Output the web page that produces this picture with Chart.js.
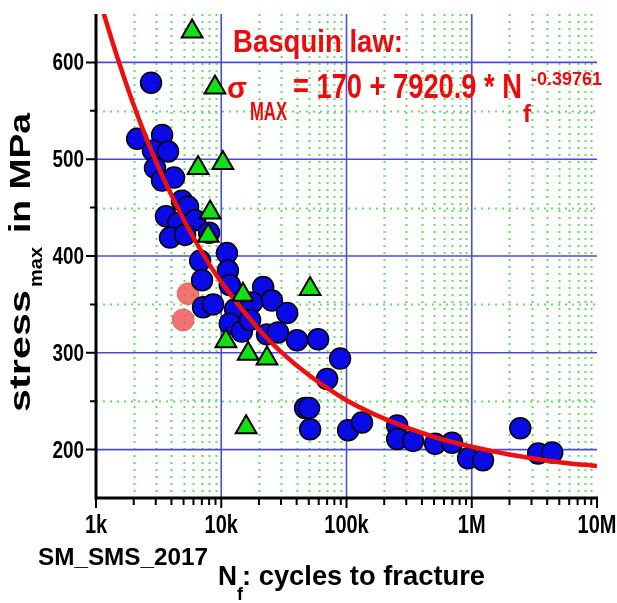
<!DOCTYPE html>
<html>
<head>
<meta charset="utf-8">
<script src="https://cdn.jsdelivr.net/npm/chart.js@4.4.1/dist/chart.umd.min.js"></script>
<style>
  html, body { margin: 0; padding: 0; background: #fff; }
</style>
</head>
<body>
<canvas id="wohler" width="617" height="603"></canvas>
<script>
// cycles to fracture (N_f) and max stress (MPa)
const blueN = [2750, 2130, 3370, 2850, 3760, 2960, 3370, 4200, 4860, 5430,
               3620, 4520, 6180, 3900, 5140, 8000, 6780, 11100, 11300, 7030,
               11700, 21600, 7160, 8610, 12900, 17600, 25400, 33600, 11700, 14600,
               17000, 23200, 28400, 40300, 59300, 88900, 70000, 46700, 50200, 51200,
               103000, 133000, 254000, 254000, 340000, 510000, 697000, 935000, 1230000, 2440000,
               3390000, 4390000];
const blueS = [579, 521, 525, 509, 508, 491, 478, 481, 457, 451,
               441, 434, 437, 419, 422, 424, 395, 403, 385, 375,
               370, 368, 347, 350, 345, 352, 354, 341, 330, 322,
               334, 319, 321, 313, 314, 294, 273, 243, 243, 221,
               220, 228, 225, 211, 209, 206, 207, 191, 189, 222,
               196, 197];

const greenN = [5850, 8910, 6530, 10300, 8150, 7860, 14900, 51200, 10900, 16400, 23200, 15800];
const greenS = [632, 574, 491, 496, 445, 421, 360, 366, 312, 299, 294, 223];

const redN = [5430, 4960];
const redS = [361, 334];

// Basquin fit curve
const fitN = [1100, 1200, 1500, 2000, 3000, 5000, 7000, 10000, 20000, 30000,
              50000, 100000, 200000, 500000, 1000000, 2000000, 5000000, 10000000];
const fitS = [659, 643, 603, 556, 498, 438, 404, 373, 324, 301,
              277, 251, 232, 213, 203, 195, 187, 183];

// axis ticks
const xDecades = [1000, 10000, 100000, 1000000, 10000000];
const xLabels = ['1k', '10k', '100k', '1M', '10M'];
const xSteps = [2, 3, 4, 5, 6, 7, 8, 9];
const yMajor = [200, 300, 400, 500, 600];
const yMinor = [250, 350, 450, 550];

const toPoints = (xs, ys) => xs.map((x, i) => ({ x: x, y: ys[i] }));

const FONT = '"Liberation Sans", Arial, sans-serif';

// bold text, squeezed horizontally: o.w = target width or o.sx = scale
function drawText(ctx, txt, x, y, size, o) {
    ctx.save();
    ctx.font = 'bold ' + size + 'px ' + FONT;
    ctx.fillStyle = o.color || '#000';
    ctx.textBaseline = 'alphabetic';
    ctx.textAlign = 'left';
    const w = ctx.measureText(txt).width;
    const sx = o.w ? o.w / w : (o.sx || 1);
    let dx = 0;
    if (o.align === 'center') dx = -w / 2;
    if (o.align === 'right') dx = -w;
    ctx.translate(x, y);
    if (o.vertical) ctx.rotate(-Math.PI / 2);
    ctx.scale(sx, 1);
    ctx.fillText(txt, dx, 0);
    ctx.restore();
}

const paperGrid = {
    id: 'paperGrid',
    beforeDatasetsDraw(chart) {
        const { ctx, chartArea: a, scales: { x, y } } = chart;
        ctx.save();
        // green dotted minor grid
        ctx.strokeStyle = '#66dd66';
        ctx.lineWidth = 2;
        ctx.setLineDash([2, 5]);
        ctx.beginPath();
        xDecades.slice(0, -1).forEach(d => {
            xSteps.forEach(m => {
                const px = Math.round(x.getPixelForValue(d * m)) + 0.5;
                ctx.moveTo(px, a.top);
                ctx.lineTo(px, a.bottom);
            });
        });
        yMinor.forEach(v => {
            const py = Math.round(y.getPixelForValue(v)) + 0.5;
            ctx.moveTo(a.left, py);
            ctx.lineTo(a.right, py);
        });
        ctx.stroke();
        // blue major grid
        ctx.setLineDash([]);
        ctx.strokeStyle = '#4a4ae0';
        ctx.lineWidth = 1.6;
        ctx.beginPath();
        xDecades.slice(1, -1).forEach(d => {
            const px = x.getPixelForValue(d);
            ctx.moveTo(px, a.top);
            ctx.lineTo(px, a.bottom);
        });
        yMajor.forEach(v => {
            const py = y.getPixelForValue(v);
            ctx.moveTo(a.left, py);
            ctx.lineTo(a.right, py);
        });
        ctx.stroke();
        ctx.restore();
    },
    afterDraw(chart) {
        const { ctx, chartArea: a, scales: { x, y } } = chart;
        ctx.save();
        // black axes and tick marks
        ctx.strokeStyle = '#000';
        ctx.lineWidth = 3;
        ctx.beginPath();
        ctx.moveTo(a.left, a.top);
        ctx.lineTo(a.left, a.bottom);
        ctx.lineTo(a.right + 1, a.bottom);
        ctx.stroke();
        ctx.lineWidth = 2;
        ctx.beginPath();
        xDecades.forEach((d, i) => {
            const px = x.getPixelForValue(d);
            ctx.moveTo(px, a.bottom);
            ctx.lineTo(px, a.bottom + 10);
            if (i < xDecades.length - 1) {
                xSteps.forEach(m => {
                    const pm = x.getPixelForValue(d * m);
                    ctx.moveTo(pm, a.bottom);
                    ctx.lineTo(pm, a.bottom + 7);
                });
            }
        });
        yMajor.forEach(v => {
            const py = y.getPixelForValue(v);
            ctx.moveTo(a.left, py);
            ctx.lineTo(a.left - 10, py);
        });
        yMinor.forEach(v => {
            const py = y.getPixelForValue(v);
            ctx.moveTo(a.left, py);
            ctx.lineTo(a.left - 6, py);
        });
        ctx.stroke();
        ctx.restore();

        // tick labels (condensed, like the scanned figure)
        x.ticks.forEach(t => {
            const i = xDecades.indexOf(t.value);
            drawText(ctx, xLabels[i], x.getPixelForValue(t.value), a.bottom + 35, 25, { sx: 0.8, align: 'center' });
        });
        y.ticks.forEach(t => {
            drawText(ctx, String(t.value), a.left - 12, y.getPixelForValue(t.value) + 8, 23, { sx: 0.82, align: 'right' });
        });

        // annotation
        const red = '#ee0a0a';
        drawText(ctx, 'Basquin law:', 233, 52, 32, { w: 170, color: red });
        drawText(ctx, 'σ', 227, 98, 30, { w: 20, color: red });
        drawText(ctx, 'MAX', 250, 120, 26, { w: 37, color: red });
        drawText(ctx, '= 170 + 7920.9 * N', 293, 98, 35, { w: 229, color: red });
        drawText(ctx, 'f', 523, 122, 24, { w: 8, color: red });
        drawText(ctx, '-0.39761', 531, 85, 18, { w: 71, color: red });

        // axis titles
        drawText(ctx, 'stress', 30, 412, 30, { w: 122, vertical: true });
        drawText(ctx, 'max', 42, 287, 19, { w: 40, vertical: true });
        drawText(ctx, 'in MPa', 30, 233, 30, { w: 120, vertical: true });
        drawText(ctx, 'N', 218, 585, 28, { w: 19 });
        drawText(ctx, 'f', 237, 600, 18, { w: 6 });
        drawText(ctx, ': cycles to fracture', 242, 585, 28, { w: 243 });
        drawText(ctx, 'SM_SMS_2017', 38, 565, 24, { w: 170 });
    }
};

const ctx = document.getElementById('wohler').getContext('2d');
new Chart(ctx, {
    type: 'scatter',
    data: {
        datasets: [
            {
                label: 'series B',
                data: toPoints(greenN, greenS),
                pointStyle: 'triangle',
                pointRadius: 12,
                backgroundColor: '#12e012',
                borderColor: '#000',
                borderWidth: 2
            },
            {
                label: 'Basquin fit',
                data: toPoints(fitN, fitS),
                showLine: true,
                pointRadius: 0,
                borderColor: '#ee1010',
                borderWidth: 4.5,
                cubicInterpolationMode: 'monotone'
            },
            {
                label: 'series A',
                data: toPoints(blueN, blueS),
                pointRadius: 10.5,
                backgroundColor: '#0a0ae6',
                borderColor: '#000',
                borderWidth: 1.5
            },
            {
                label: 'series C',
                data: toPoints(redN, redS),
                pointRadius: 11,
                backgroundColor: 'rgba(238, 80, 80, 0.8)',
                borderColor: 'rgba(230, 60, 60, 0.5)',
                borderWidth: 1
            }
        ]
    },
    options: {
        responsive: false,
        animation: false,
        devicePixelRatio: 1,
        layout: { padding: { left: 0, right: 20, top: 10, bottom: 0 } },
        plugins: { legend: { display: false }, tooltip: { enabled: false } },
        scales: {
            x: {
                type: 'logarithmic',
                min: 1000,
                max: 10000000,
                afterBuildTicks: s => { s.ticks = xDecades.map(v => ({ value: v })); },
                afterFit: s => { s.height = 105; s.paddingLeft = 0; s.paddingRight = 0; },
                grid: { display: false, drawTicks: false },
                border: { display: false },
                ticks: { display: false }
            },
            y: {
                type: 'linear',
                min: 150,
                max: 650,
                afterBuildTicks: s => { s.ticks = yMajor.map(v => ({ value: v })); },
                afterFit: s => { s.width = 96; s.paddingTop = 0; s.paddingBottom = 0; },
                grid: { display: false, drawTicks: false },
                border: { display: false },
                ticks: { display: false }
            }
        }
    },
    plugins: [paperGrid]
});
</script>
</body>
</html>
